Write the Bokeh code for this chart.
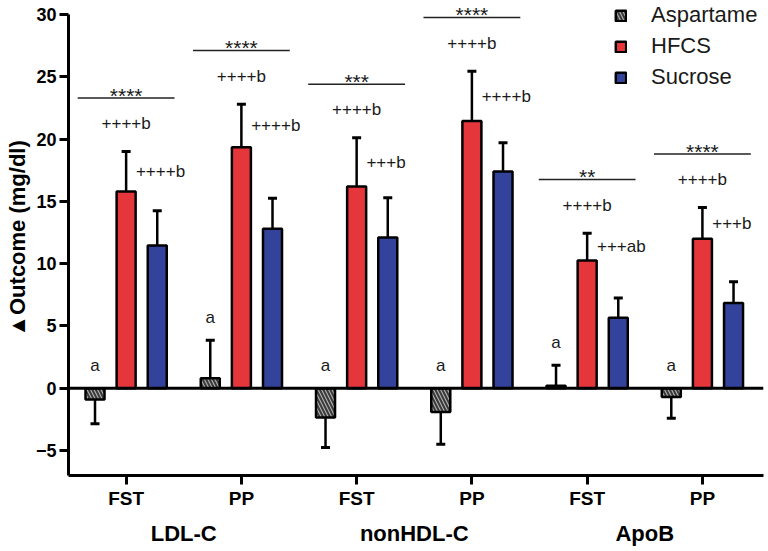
import numpy as np
from bokeh.plotting import figure
from bokeh.models import (Range1d, FixedTicker, LinearAxis, Whisker, TeeHead, Span,
                          Legend, LegendItem, ColumnDataSource)
from bokeh.core.properties import value
from bokeh.embed import file_html
from bokeh.resources import INLINE

# ---------------- data ----------------
groups = ["LDL-C", "nonHDL-C", "ApoB"]
timepoints = ["FST", "PP", "FST", "PP", "FST", "PP"]
series_names = ["Aspartame", "HFCS", "Sucrose"]

aspartame = [-0.9, 0.8, -2.35, -1.9, 0.2, -0.7]
aspartame_sem = [1.95, 3.05, 2.4, 2.6, 1.65, 1.7]
hfcs = [15.8, 19.35, 16.2, 21.45, 10.25, 12.0]
hfcs_sem = [3.2, 3.45, 3.9, 4.0, 2.2, 2.5]
sucrose = [11.45, 12.8, 12.1, 17.4, 5.65, 6.85]
sucrose_sem = [2.8, 2.45, 3.2, 2.3, 1.6, 1.7]

aspartame_labels = ["a", "a", "a", "a", "a", "a"]
hfcs_labels = ["++++b", "++++b", "++++b", "++++b", "++++b", "++++b"]
sucrose_labels = ["++++b", "++++b", "+++b", "++++b", "+++ab", "+++b"]
significance = ["****", "****", "***", "****", "**", "****"]

y_ticks = [-5, 0, 5, 10, 15, 20, 25, 30]

# ---------------- styles ----------------
FONT = "Liberation Sans"
RED = "#e5363b"
BLUE = "#33429a"
GRAY = "#b0b0b0"
BAR_W = 0.165
OFF = 0.27

idx = np.arange(len(timepoints), dtype=float)
x_asp = idx - OFF
x_hf = idx
x_su = idx + OFF

p = figure(width=766, height=548, x_range=Range1d(-0.5, 5.53), y_range=Range1d(-7, 31.04),
           output_backend="svg", toolbar_location=None,
           min_border_left=68, min_border_right=3, min_border_top=1, min_border_bottom=71)
p.xgrid.visible = False
p.ygrid.visible = False
p.outline_line_color = None

# bars
r_asp = p.vbar(x=x_asp, top=aspartame, bottom=0, width=BAR_W, fill_color=GRAY,
               hatch_pattern="\\", hatch_color="#3a3a3a", hatch_scale=7, hatch_weight=2,
               line_color="black", line_width=2.5)
r_hf = p.vbar(x=x_hf, top=hfcs, bottom=0, width=BAR_W, fill_color=RED,
              line_color="black", line_width=2.5)
r_su = p.vbar(x=x_su, top=sucrose, bottom=0, width=BAR_W, fill_color=BLUE,
              line_color="black", line_width=2.5)

# error bars (pointing away from zero)
xs_all = np.concatenate([x_asp, x_hf, x_su])
vals_all = np.array(aspartame + hfcs + sucrose)
sem_all = np.array(aspartame_sem + hfcs_sem + sucrose_sem)
pos = vals_all >= 0
up_src = ColumnDataSource(dict(x=xs_all[pos], lo=vals_all[pos], hi=vals_all[pos] + sem_all[pos]))
dn_src = ColumnDataSource(dict(x=xs_all[~pos], lo=vals_all[~pos] - sem_all[~pos], hi=vals_all[~pos]))
p.add_layout(Whisker(source=up_src, base="x", lower="lo", upper="hi", dimension="height",
                     line_width=2.5, line_color="black", lower_head=None,
                     upper_head=TeeHead(size=9, line_width=3, line_color="black")))
p.add_layout(Whisker(source=dn_src, base="x", lower="lo", upper="hi", dimension="height",
                     line_width=2.5, line_color="black", upper_head=None,
                     lower_head=TeeHead(size=9, line_width=3, line_color="black")))

# zero line
p.add_layout(Span(location=0, dimension="width", line_color="black", line_width=3))

# annotations
asp_tip = np.maximum(np.array(aspartame) + np.where(np.array(aspartame) >= 0, aspartame_sem, 0), 0)
a_y = asp_tip + 1.8
hf_tip = np.array(hfcs) + np.array(hfcs_sem)
hf_label_y = hf_tip + 2.25
su_label_y = (np.array(hfcs) + hf_tip) / 2
line_y = hf_label_y + 2.05
star_y = line_y + 0.22

txt = dict(text_font=value(FONT), text_font_size="17px", text_color="#1a1a1a",
           text_baseline="middle")
p.text(x=x_asp, y=a_y, text=aspartame_labels, text_align="center", **txt)
p.text(x=x_hf, y=hf_label_y, text=hfcs_labels, text_align="center", **txt)
p.text(x=x_hf + 0.085, y=su_label_y, text=sucrose_labels, text_align="left", **txt)
p.segment(x0=x_hf - 0.42, x1=x_hf + 0.42, y0=line_y, y1=line_y, line_color="#222222", line_width=1.5)
p.text(x=x_hf, y=star_y, text=significance, text_align="center", text_font=value(FONT),
       text_font_size="21px", text_color="#1a1a1a", text_baseline="middle")

# axes
AX_W = 3
p.yaxis.ticker = FixedTicker(ticks=y_ticks)
p.yaxis.bounds = (-7, 30)
p.yaxis.axis_label = "▲Outcome (mg/dl)"
p.yaxis.axis_label_text_font = FONT
p.yaxis.axis_label_text_font_size = "22px"
p.yaxis.axis_label_text_font_style = "bold"
p.yaxis.axis_label_standoff = 3
p.yaxis.major_label_text_font = FONT
p.yaxis.major_label_text_font_size = "18px"
p.yaxis.major_label_text_font_style = "bold"
p.yaxis.major_label_standoff = 3

p.xaxis.ticker = FixedTicker(ticks=list(range(len(timepoints))))
p.xaxis.major_label_overrides = {i: t for i, t in enumerate(timepoints)}
p.xaxis.major_label_text_font = FONT
p.xaxis.major_label_text_font_size = "19px"
p.xaxis.major_label_text_font_style = "bold"
p.xaxis.major_label_standoff = 3

for ax in (p.xaxis[0], p.yaxis[0]):
    ax.axis_line_width = AX_W
    ax.axis_line_color = "black"
    ax.major_tick_line_width = AX_W
    ax.major_tick_line_color = "black"
    ax.major_tick_out = 9
    ax.major_tick_in = 0
    ax.minor_tick_line_color = None
    ax.major_label_text_color = "black"
    ax.axis_label_text_color = "black"

group_centers = [float(2 * g + 0.5) for g in range(len(groups))]
gaxis = LinearAxis(ticker=FixedTicker(ticks=group_centers),
                   major_label_overrides={c: g for c, g in zip(group_centers, groups)},
                   axis_line_color=None, major_tick_line_color=None, minor_tick_line_color=None,
                   major_tick_out=0, major_tick_in=0,
                   major_label_text_font=FONT, major_label_text_font_size="22px",
                   major_label_text_font_style="bold", major_label_text_color="black",
                   major_label_standoff=9)
p.add_layout(gaxis, "below")

# legend
legend = Legend(items=[LegendItem(label=series_names[0], renderers=[r_asp]),
                       LegendItem(label=series_names[1], renderers=[r_hf]),
                       LegendItem(label=series_names[2], renderers=[r_su])],
                location=(546, 385), label_text_font=FONT, label_text_font_size="22px",
                label_text_color="#1a1a1a",
                glyph_width=13, glyph_height=13, label_height=26, spacing=5,
                padding=0, margin=0, label_standoff=24,
                border_line_color=None, background_fill_alpha=0)
p.add_layout(legend)

open("out.html", "w").write(file_html(p, INLINE))
